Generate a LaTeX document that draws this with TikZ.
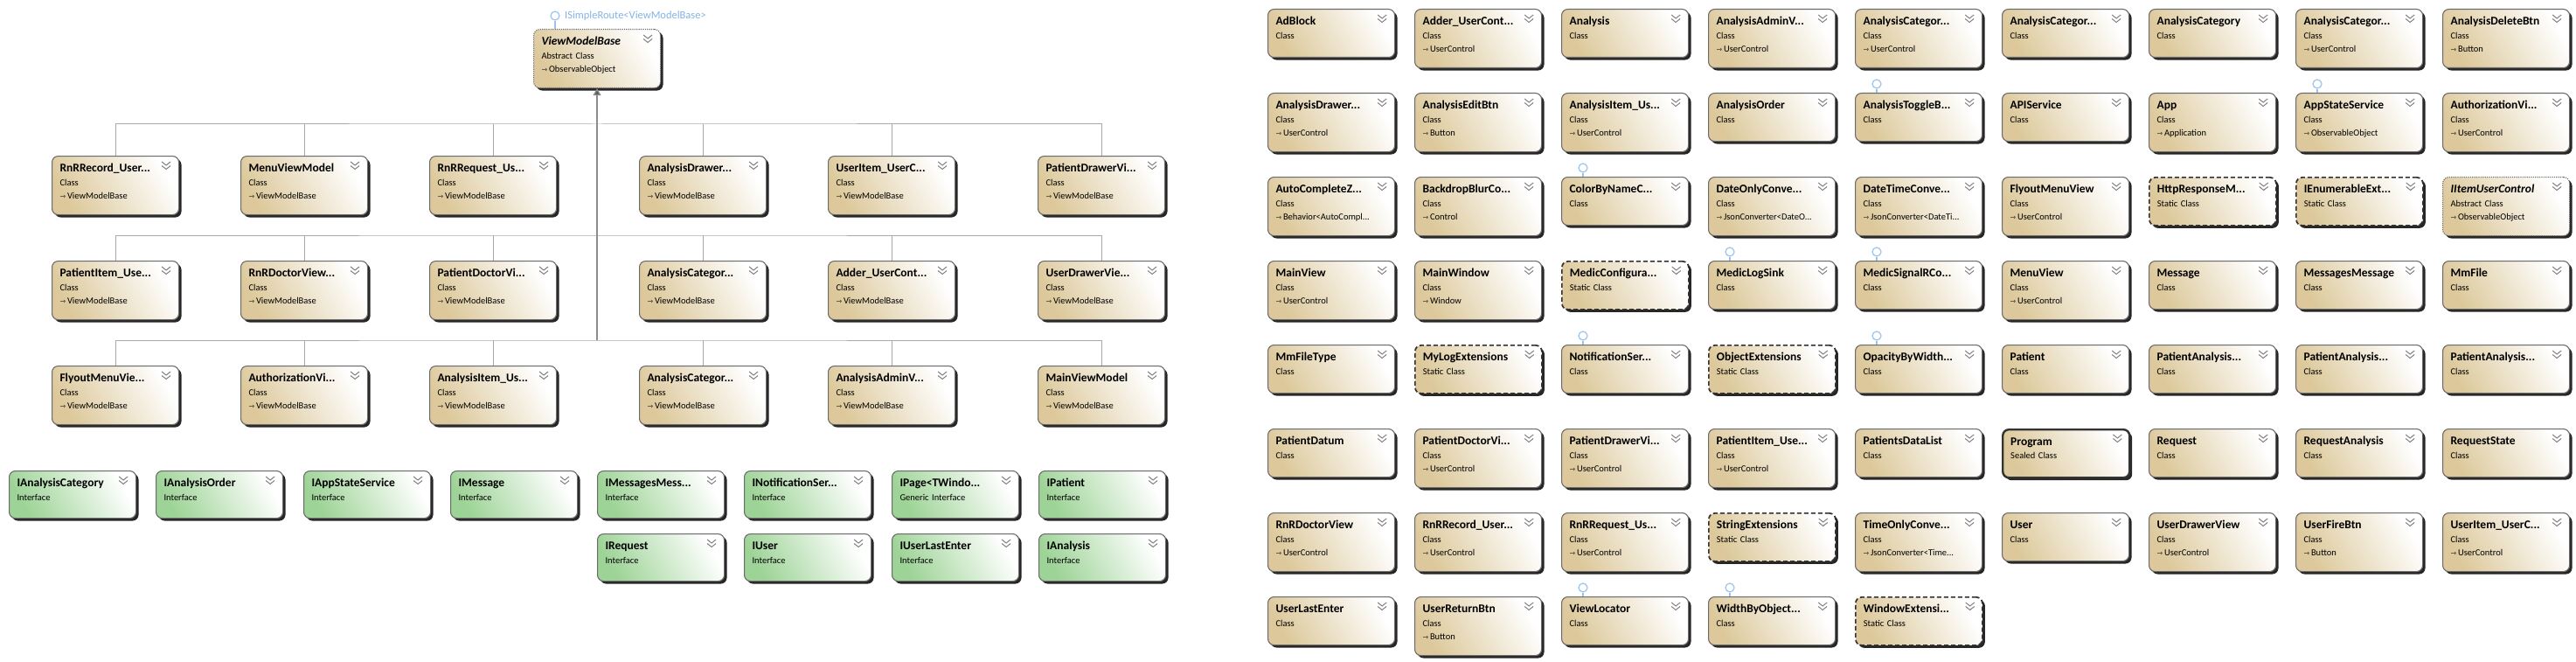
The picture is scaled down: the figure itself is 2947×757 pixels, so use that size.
\documentclass[tikz,border=0pt]{standalone}
\usepackage{fontspec}
\setmainfont{Carlito}
\newfontfamily\symf{DejaVu Sans}
\usetikzlibrary{arrows.meta,positioning,calc,shadows}

\definecolor{clstan}{HTML}{DCC89A}
\definecolor{ifgreen}{HTML}{9DD396}
\definecolor{boxline}{HTML}{6B6B6B}
\definecolor{conngray}{HTML}{A8A8A8}
\definecolor{lolliblue}{HTML}{9CC4EC}
\definecolor{routeblue}{HTML}{82B4E6}

\newcommand{\ttl}[1]{{\fontsize{13.5}{15.5}\selectfont\bfseries #1}}
\newcommand{\bse}[1]{{\symf\fontsize{8}{15.5}\selectfont ⇾}\,#1}
\newcommand{\chev}[1]{%
  \draw[chevron] ([xshift=-20pt,yshift=-7pt]#1.north east) -- ++(5pt,-4pt) -- ++(5pt,4pt)
    ([xshift=-20pt,yshift=-11.5pt]#1.north east) -- ++(5pt,-4pt) -- ++(5pt,4pt);}

\tikzset{
	umlbox/.style={draw=boxline, line width=1.1pt, rounded corners=7pt, anchor=north west,
		inner xsep=9pt, inner ysep=0pt, text width=127pt, align=left, text height=18pt,
		font=\fontsize{10.5}{15.5}\selectfont,
		drop shadow={shadow xshift=3pt, shadow yshift=-3pt, fill=black!85, opacity=1}},
	cls/.style={umlbox, left color=clstan, right color=white, shading angle=120, text depth=37pt},
	clsb/.style={cls, text depth=49pt},
	stat/.style={cls, draw=black!80, line width=1.7pt, dash pattern=on 5pt off 3pt},
	abst/.style={clsb, dash pattern=on 1.2pt off 1.2pt},
	seal/.style={cls, draw=black!80, line width=2.4pt},
	iface/.style={umlbox, left color=ifgreen, right color=white, shading angle=120, text depth=36pt},
	conn/.style={draw=conngray, line width=1pt},
	chevron/.style={draw=black!50, line width=1pt},
	lolli/.style={circle, draw=lolliblue, fill=white, line width=1.2pt, minimum size=10pt, inner sep=0pt},
	lollistem/.style={draw=lolliblue, line width=1.2pt}
}

\begin{document}
\begin{tikzpicture}[x=1pt, y=-1pt]
	\useasboundingbox (0,0) rectangle (2947,757);
	
	%% ── Base class and route interface ─────────────────────────────
	\node[abst] (vmb) at (610,33)
	{\ttl{\itshape ViewModelBase}\\Abstract Class\\\bse{ObservableObject}};
	\node[lolli] (routelp) at ([xshift=25pt,yshift=15pt]vmb.north west) {};
	\draw[lollistem] (routelp) -- (routelp |- vmb.north);
	\node[right=2pt of routelp, text=routeblue, font=\fontsize{12.5}{14}\selectfont] (routelbl)
	{ISimpleRoute<ViewModelBase>};
	
	%% ── Derived view models, row 1 ─────────────────────────────────
	\node[clsb] (vmrnrrec) at (59,178) {\ttl{RnRRecord\_User...}\\Class\\\bse{ViewModelBase}};
	\node[clsb] (vmmenu) at (275,178) {\ttl{MenuViewModel}\\Class\\\bse{ViewModelBase}};
	\node[clsb] (vmrnrreq) at (491,178) {\ttl{RnRRequest\_Us...}\\Class\\\bse{ViewModelBase}};
	\node[clsb] (vmandrawer) at (731,178) {\ttl{AnalysisDrawer...}\\Class\\\bse{ViewModelBase}};
	\node[clsb] (vmuseritem) at (947,178) {\ttl{UserItem\_UserC...}\\Class\\\bse{ViewModelBase}};
	\node[clsb] (vmpatdrawer) at (1187,178) {\ttl{PatientDrawerVi...}\\Class\\\bse{ViewModelBase}};
	
	%% ── row 2 ──────────────────────────────────────────────────────
	\node[clsb] (vmpatitem) at (59,298) {\ttl{PatientItem\_Use...}\\Class\\\bse{ViewModelBase}};
	\node[clsb] (vmrnrdoc) at (275,298) {\ttl{RnRDoctorView...}\\Class\\\bse{ViewModelBase}};
	\node[clsb] (vmpatdoc) at (491,298) {\ttl{PatientDoctorVi...}\\Class\\\bse{ViewModelBase}};
	\node[clsb] (vmancat) at (731,298) {\ttl{AnalysisCategor...}\\Class\\\bse{ViewModelBase}};
	\node[clsb] (vmadder) at (947,298) {\ttl{Adder\_UserCont...}\\Class\\\bse{ViewModelBase}};
	\node[clsb] (vmuserdrawer) at (1187,298) {\ttl{UserDrawerVie...}\\Class\\\bse{ViewModelBase}};
	
	%% ── row 3 ──────────────────────────────────────────────────────
	\node[clsb] (vmflyout) at (59,418) {\ttl{FlyoutMenuVie...}\\Class\\\bse{ViewModelBase}};
	\node[clsb] (vmauth) at (275,418) {\ttl{AuthorizationVi...}\\Class\\\bse{ViewModelBase}};
	\node[clsb] (vmanitem) at (491,418) {\ttl{AnalysisItem\_Us...}\\Class\\\bse{ViewModelBase}};
	\node[clsb] (vmancat2) at (731,418) {\ttl{AnalysisCategor...}\\Class\\\bse{ViewModelBase}};
	\node[clsb] (vmanadmin) at (947,418) {\ttl{AnalysisAdminV...}\\Class\\\bse{ViewModelBase}};
	\node[clsb] (vmmain) at (1187,418) {\ttl{MainViewModel}\\Class\\\bse{ViewModelBase}};
	
	%% ── Inheritance connectors ─────────────────────────────────────
	\coordinate (bus1) at (vmb.south |- 0,142);
	\coordinate (bus2) at (vmb.south |- 0,269);
	\coordinate (bus3) at (vmb.south |- 0,389);
	\draw[conn] (vmrnrrec.north) |- (bus1) -| (vmpatdrawer.north);
	\draw[conn] (vmpatitem.north) |- (bus2) -| (vmuserdrawer.north);
	\draw[conn] (vmflyout.north) |- (bus3) -| (vmmain.north);
	\foreach \n/\b in {vmmenu/bus1, vmrnrreq/bus1, vmandrawer/bus1, vmuseritem/bus1,
		vmrnrdoc/bus2, vmpatdoc/bus2, vmancat/bus2, vmadder/bus2,
		vmauth/bus3, vmanitem/bus3, vmancat2/bus3, vmanadmin/bus3}
	\draw[conn] (\n.north) -- (\n.north |- \b);
	\draw[draw=black!45, line width=1.3pt, -{Triangle[width=9pt,length=8pt,fill=black!65]}]
	(bus3) -- (vmb.south);
	
	%% ── Interfaces ─────────────────────────────────────────────────
	\node[iface] (ianalysiscat) at (10,538) {\ttl{IAnalysisCategory}\\Interface};
	\node[iface] (ianalysisord) at (178,538) {\ttl{IAnalysisOrder}\\Interface};
	\node[iface] (iappstate) at (347,538) {\ttl{IAppStateService}\\Interface};
	\node[iface] (imessage) at (515,538) {\ttl{IMessage}\\Interface};
	\node[iface] (imsgmsg) at (683,538) {\ttl{IMessagesMess...}\\Interface};
	\node[iface] (inotif) at (851,538) {\ttl{INotificationSer...}\\Interface};
	\node[iface] (ipage) at (1020,538) {\ttl{IPage<TWindo...}\\Generic Interface};
	\node[iface] (ipatient) at (1188,538) {\ttl{IPatient}\\Interface};
	\node[iface] (irequest) at (683,610) {\ttl{IRequest}\\Interface};
	\node[iface] (iuser) at (851,610) {\ttl{IUser}\\Interface};
	\node[iface] (iuserlast) at (1020,610) {\ttl{IUserLastEnter}\\Interface};
	\node[iface] (ianalysis) at (1188,610) {\ttl{IAnalysis}\\Interface};
	
	%% ── Remaining types, grid row 1 ────────────────────────────────
	\node[cls] (adblock) at (1450,10) {\ttl{AdBlock}\\Class};
	\node[clsb] (adderuc) at (1618,10) {\ttl{Adder\_UserCont...}\\Class\\\bse{UserControl}};
	\node[cls] (analysis) at (1786,10) {\ttl{Analysis}\\Class};
	\node[clsb] (anadminv) at (1954,10) {\ttl{AnalysisAdminV...}\\Class\\\bse{UserControl}};
	\node[clsb] (ancata) at (2122,10) {\ttl{AnalysisCategor...}\\Class\\\bse{UserControl}};
	\node[cls] (ancatb) at (2290,10) {\ttl{AnalysisCategor...}\\Class};
	\node[cls] (ancategory) at (2458,10) {\ttl{AnalysisCategory}\\Class};
	\node[clsb] (ancatc) at (2626,10) {\ttl{AnalysisCategor...}\\Class\\\bse{UserControl}};
	\node[clsb] (andelbtn) at (2794,10) {\ttl{AnalysisDeleteBtn}\\Class\\\bse{Button}};
	
	%% ── grid row 2 ─────────────────────────────────────────────────
	\node[clsb] (andrawerv) at (1450,106) {\ttl{AnalysisDrawer...}\\Class\\\bse{UserControl}};
	\node[clsb] (aneditbtn) at (1618,106) {\ttl{AnalysisEditBtn}\\Class\\\bse{Button}};
	\node[clsb] (anitemuc) at (1786,106) {\ttl{AnalysisItem\_Us...}\\Class\\\bse{UserControl}};
	\node[cls] (anorder) at (1954,106) {\ttl{AnalysisOrder}\\Class};
	\node[cls] (antoggle) at (2122,106) {\ttl{AnalysisToggleB...}\\Class};
	\node[cls] (apiservice) at (2290,106) {\ttl{APIService}\\Class};
	\node[clsb] (app) at (2458,106) {\ttl{App}\\Class\\\bse{Application}};
	\node[clsb] (appstate) at (2626,106) {\ttl{AppStateService}\\Class\\\bse{ObservableObject}};
	\node[clsb] (authv) at (2794,106) {\ttl{AuthorizationVi...}\\Class\\\bse{UserControl}};
	
	%% ── grid row 3 ─────────────────────────────────────────────────
	\node[clsb] (autocomplete) at (1450,202) {\ttl{AutoCompleteZ...}\\Class\\\bse{Behavior<AutoCompl...}};
	\node[clsb] (backdrop) at (1618,202) {\ttl{BackdropBlurCo...}\\Class\\\bse{Control}};
	\node[cls] (colorbyname) at (1786,202) {\ttl{ColorByNameC...}\\Class};
	\node[clsb] (dateonly) at (1954,202) {\ttl{DateOnlyConve...}\\Class\\\bse{JsonConverter<DateO...}};
	\node[clsb] (datetime) at (2122,202) {\ttl{DateTimeConve...}\\Class\\\bse{JsonConverter<DateTi...}};
	\node[clsb] (flyoutview) at (2290,202) {\ttl{FlyoutMenuView}\\Class\\\bse{UserControl}};
	\node[stat] (httpresp) at (2458,202) {\ttl{HttpResponseM...}\\Static Class};
	\node[stat] (ienumext) at (2626,202) {\ttl{IEnumerableExt...}\\Static Class};
	\node[abst] (iitemuc) at (2794,202) {\ttl{\itshape IItemUserControl}\\Abstract Class\\\bse{ObservableObject}};
	
	%% ── grid row 4 ─────────────────────────────────────────────────
	\node[clsb] (mainview) at (1450,298) {\ttl{MainView}\\Class\\\bse{UserControl}};
	\node[clsb] (mainwindow) at (1618,298) {\ttl{MainWindow}\\Class\\\bse{Window}};
	\node[stat] (medicconf) at (1786,298) {\ttl{MedicConfigura...}\\Static Class};
	\node[cls] (mediclog) at (1954,298) {\ttl{MedicLogSink}\\Class};
	\node[cls] (medicsignal) at (2122,298) {\ttl{MedicSignalRCo...}\\Class};
	\node[clsb] (menuview) at (2290,298) {\ttl{MenuView}\\Class\\\bse{UserControl}};
	\node[cls] (message) at (2458,298) {\ttl{Message}\\Class};
	\node[cls] (msgmsg) at (2626,298) {\ttl{MessagesMessage}\\Class};
	\node[cls] (mmfile) at (2794,298) {\ttl{MmFile}\\Class};
	
	%% ── grid row 5 ─────────────────────────────────────────────────
	\node[cls] (mmfiletype) at (1450,394) {\ttl{MmFileType}\\Class};
	\node[stat] (mylogext) at (1618,394) {\ttl{MyLogExtensions}\\Static Class};
	\node[cls] (notifser) at (1786,394) {\ttl{NotificationSer...}\\Class};
	\node[stat] (objext) at (1954,394) {\ttl{ObjectExtensions}\\Static Class};
	\node[cls] (opacitybyw) at (2122,394) {\ttl{OpacityByWidth...}\\Class};
	\node[cls] (patient) at (2290,394) {\ttl{Patient}\\Class};
	\node[cls] (patana) at (2458,394) {\ttl{PatientAnalysis...}\\Class};
	\node[cls] (patanb) at (2626,394) {\ttl{PatientAnalysis...}\\Class};
	\node[cls] (patanc) at (2794,394) {\ttl{PatientAnalysis...}\\Class};
	
	%% ── grid row 6 ─────────────────────────────────────────────────
	\node[cls] (patdatum) at (1450,490) {\ttl{PatientDatum}\\Class};
	\node[clsb] (patdocv) at (1618,490) {\ttl{PatientDoctorVi...}\\Class\\\bse{UserControl}};
	\node[clsb] (patdrawerv) at (1786,490) {\ttl{PatientDrawerVi...}\\Class\\\bse{UserControl}};
	\node[clsb] (patitemuc) at (1954,490) {\ttl{PatientItem\_Use...}\\Class\\\bse{UserControl}};
	\node[cls] (patdatalist) at (2122,490) {\ttl{PatientsDataList}\\Class};
	\node[seal] (program) at (2290,490) {\ttl{Program}\\Sealed Class};
	\node[cls] (request) at (2458,490) {\ttl{Request}\\Class};
	\node[cls] (reqanalysis) at (2626,490) {\ttl{RequestAnalysis}\\Class};
	\node[cls] (reqstate) at (2794,490) {\ttl{RequestState}\\Class};
	
	%% ── grid row 7 ─────────────────────────────────────────────────
	\node[clsb] (rnrdocview) at (1450,586) {\ttl{RnRDoctorView}\\Class\\\bse{UserControl}};
	\node[clsb] (rnrrecuc) at (1618,586) {\ttl{RnRRecord\_User...}\\Class\\\bse{UserControl}};
	\node[clsb] (rnrrequc) at (1786,586) {\ttl{RnRRequest\_Us...}\\Class\\\bse{UserControl}};
	\node[stat] (stringext) at (1954,586) {\ttl{StringExtensions}\\Static Class};
	\node[clsb] (timeonly) at (2122,586) {\ttl{TimeOnlyConve...}\\Class\\\bse{JsonConverter<Time...}};
	\node[cls] (user) at (2290,586) {\ttl{User}\\Class};
	\node[clsb] (userdrawerv) at (2458,586) {\ttl{UserDrawerView}\\Class\\\bse{UserControl}};
	\node[clsb] (userfire) at (2626,586) {\ttl{UserFireBtn}\\Class\\\bse{Button}};
	\node[clsb] (useritemuc) at (2794,586) {\ttl{UserItem\_UserC...}\\Class\\\bse{UserControl}};
	
	%% ── grid row 8 ─────────────────────────────────────────────────
	\node[cls] (userlast) at (1450,682) {\ttl{UserLastEnter}\\Class};
	\node[clsb] (userreturn) at (1618,682) {\ttl{UserReturnBtn}\\Class\\\bse{Button}};
	\node[cls] (viewlocator) at (1786,682) {\ttl{ViewLocator}\\Class};
	\node[cls] (widthbyobj) at (1954,682) {\ttl{WidthByObject...}\\Class};
	\node[stat] (windowext) at (2122,682) {\ttl{WindowExtensi...}\\Static Class};
	
	%% ── Interface lollipops ────────────────────────────────────────
	\foreach \n in {antoggle, appstate, colorbyname, mediclog, medicsignal,
		notifser, opacitybyw, viewlocator, widthbyobj} {
		\node[lolli] (lp-\n) at ([xshift=25pt,yshift=10pt]\n.north west) {};
		\draw[lollistem] (lp-\n) -- (lp-\n |- \n.north);
	}
	
	%% ── Collapse chevrons ──────────────────────────────────────────
	\foreach \n in {vmb, vmrnrrec, vmmenu, vmrnrreq, vmandrawer, vmuseritem, vmpatdrawer,
		vmpatitem, vmrnrdoc, vmpatdoc, vmancat, vmadder, vmuserdrawer,
		vmflyout, vmauth, vmanitem, vmancat2, vmanadmin, vmmain,
		ianalysiscat, ianalysisord, iappstate, imessage, imsgmsg, inotif, ipage, ipatient,
		irequest, iuser, iuserlast, ianalysis,
		adblock, adderuc, analysis, anadminv, ancata, ancatb, ancategory, ancatc, andelbtn,
		andrawerv, aneditbtn, anitemuc, anorder, antoggle, apiservice, app, appstate, authv,
		autocomplete, backdrop, colorbyname, dateonly, datetime, flyoutview, httpresp, ienumext, iitemuc,
		mainview, mainwindow, medicconf, mediclog, medicsignal, menuview, message, msgmsg, mmfile,
		mmfiletype, mylogext, notifser, objext, opacitybyw, patient, patana, patanb, patanc,
		patdatum, patdocv, patdrawerv, patitemuc, patdatalist, program, request, reqanalysis, reqstate,
		rnrdocview, rnrrecuc, rnrrequc, stringext, timeonly, user, userdrawerv, userfire, useritemuc,
		userlast, userreturn, viewlocator, widthbyobj, windowext}
	\chev{\n};
\end{tikzpicture}
\end{document}
